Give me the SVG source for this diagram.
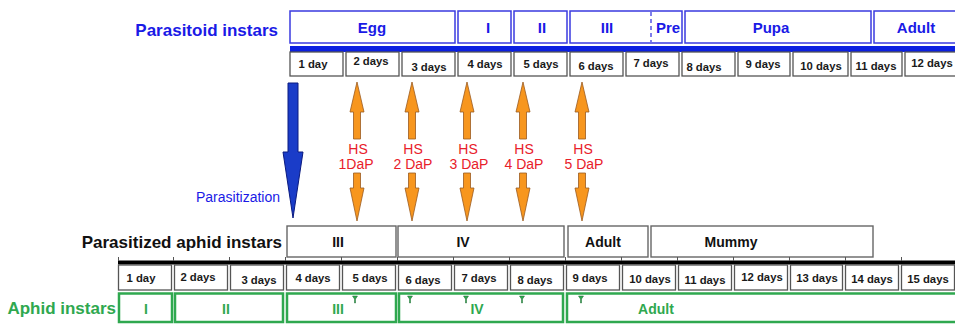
<svg xmlns="http://www.w3.org/2000/svg" width="955" height="325" viewBox="0 0 955 325">
  <style>
    text { font-family: "Liberation Sans", Arial, sans-serif; }
    .lbl-blue { fill: #1a1ae6; font-weight: bold; font-size: 17px; }
    .lbl-black { fill: #111; font-weight: bold; font-size: 17px; }
    .lbl-green { fill: #2fa84f; font-weight: bold; font-size: 17px; }
    .pbox { fill: #fff; stroke: #3a3ae0; stroke-width: 1.5; }
    .ptxt { fill: #1a1ae6; font-weight: bold; font-size: 15px; text-anchor: middle; }
    .day { fill: #fff; stroke: #555; stroke-width: 1.3; }
    .dtxt { fill: #1a1a1a; font-weight: bold; font-size: 11.3px; text-anchor: middle; }
    .abox { fill: #fff; stroke: #666; stroke-width: 1.4; }
    .atxt { fill: #111; font-weight: bold; font-size: 14px; text-anchor: middle; }
    .gbox { fill: #fff; stroke: #2fa84f; stroke-width: 2.5; }
    .gtxt { fill: #2fa84f; font-weight: bold; font-size: 14px; text-anchor: middle; }
    .hs { fill: #e8202a; font-size: 14px; text-anchor: middle; }
    .orange { fill: #f7961e; stroke: #9a5a20; stroke-width: 0.8; }
    .gmark { fill: #2fa84f; stroke: #1d6b30; stroke-width: 0.5; }
  </style>

  <!-- row titles -->
  <text class="lbl-blue" x="278" y="36" text-anchor="end">Parasitoid instars</text>
  <text class="lbl-black" x="282" y="248" text-anchor="end">Parasitized aphid instars</text>
  <text class="lbl-green" x="116" y="314" text-anchor="end">Aphid instars</text>

  <!-- parasitoid stages -->
  <g id="parasitoid-egg"><rect class="pbox" x="290" y="11" width="165" height="32"/><text class="ptxt" x="372" y="33">Egg</text></g>
  <g id="parasitoid-I"><rect class="pbox" x="458" y="11" width="53" height="32"/><text class="ptxt" x="488" y="33">I</text></g>
  <g id="parasitoid-II"><rect class="pbox" x="514" y="11" width="53" height="32"/><text class="ptxt" x="542" y="33">II</text></g>
  <g id="parasitoid-III-pre"><rect class="pbox" x="570" y="11" width="112" height="32"/>
    <line x1="651" y1="12" x2="651" y2="42" stroke="#3a3ae0" stroke-width="1.3" stroke-dasharray="4,3"/>
    <text class="ptxt" x="607" y="33">III</text><text class="ptxt" x="668" y="33">Pre</text></g>
  <g id="parasitoid-pupa"><rect class="pbox" x="685" y="11" width="186" height="32"/><text class="ptxt" x="771" y="33">Pupa</text></g>
  <g id="parasitoid-adult"><rect class="pbox" x="874" y="11" width="90" height="32"/><text class="ptxt" x="916" y="33">Adult</text></g>

  <!-- blue time bar -->
  <rect x="290" y="46" width="665" height="6" fill="#0b1fe0"/>

  <!-- parasitoid days -->
  <g id="parasitoid-days">
    <rect class="day" x="290" y="52" width="53" height="24"/><text class="dtxt" x="313" y="68">1 day</text>
    <rect class="day" x="346" y="52" width="53" height="24"/><text class="dtxt" x="371" y="65">2 days</text>
    <rect class="day" x="402" y="52" width="53" height="24"/><text class="dtxt" x="429" y="71">3 days</text>
    <rect class="day" x="458" y="52" width="53" height="24"/><text class="dtxt" x="485" y="68">4 days</text>
    <rect class="day" x="514" y="52" width="53" height="24"/><text class="dtxt" x="541" y="68">5 days</text>
    <rect class="day" x="570" y="52" width="53" height="24"/><text class="dtxt" x="596" y="70">6 days</text>
    <rect class="day" x="626" y="52" width="53" height="24"/><text class="dtxt" x="651" y="67">7 days</text>
    <rect class="day" x="682" y="52" width="53" height="24"/><text class="dtxt" x="704" y="71">8 days</text>
    <rect class="day" x="738" y="52" width="52" height="24"/><text class="dtxt" x="763" y="68">9 days</text>
    <rect class="day" x="793" y="52" width="55" height="24"/><text class="dtxt" x="821" y="70">10 days</text>
    <rect class="day" x="851" y="52" width="51" height="24"/><text class="dtxt" x="876" y="70">11 days</text>
    <rect class="day" x="905" y="52" width="53" height="24"/><text class="dtxt" x="932" y="67">12 days</text>
  </g>

  <!-- arrows -->
  <g id="connectors">
    <!-- parasitization -->
    <polygon points="288,83 298,83 298,152 303,152 293,218 283,152 288,152" fill="#1a3cc8" stroke="#0a1a80" stroke-width="1"/>
    <!-- heat-shock arrows, upper and lower halves -->
    <g transform="translate(357,0)">
      <polygon class="orange" points="0,82 7,112 3.5,112 3.5,139 -3.5,139 -3.5,112 -7,112"/>
      <polygon class="orange" points="-3.5,173 3.5,173 3.5,188 7,188 0,221 -7,188 -3.5,188"/>
    </g>
    <g transform="translate(412,0)">
      <polygon class="orange" points="0,82 7,112 3.5,112 3.5,139 -3.5,139 -3.5,112 -7,112"/>
      <polygon class="orange" points="-3.5,173 3.5,173 3.5,188 7,188 0,221 -7,188 -3.5,188"/>
    </g>
    <g transform="translate(467,0)">
      <polygon class="orange" points="0,82 7,112 3.5,112 3.5,139 -3.5,139 -3.5,112 -7,112"/>
      <polygon class="orange" points="-3.5,173 3.5,173 3.5,188 7,188 0,221 -7,188 -3.5,188"/>
    </g>
    <g transform="translate(523,0)">
      <polygon class="orange" points="0,82 7,112 3.5,112 3.5,139 -3.5,139 -3.5,112 -7,112"/>
      <polygon class="orange" points="-3.5,173 3.5,173 3.5,188 7,188 0,221 -7,188 -3.5,188"/>
    </g>
    <g transform="translate(582,0)">
      <polygon class="orange" points="0,82 7,112 3.5,112 3.5,139 -3.5,139 -3.5,112 -7,112"/>
      <polygon class="orange" points="-3.5,173 3.5,173 3.5,188 7,188 0,221 -7,188 -3.5,188"/>
    </g>
  </g>

  <text x="280" y="202" fill="#1a1ae6" font-size="14" text-anchor="end">Parasitization</text>
  <g id="hs-labels">
    <text class="hs" x="358" y="154">HS</text><text class="hs" x="356" y="169">1DaP</text>
    <text class="hs" x="413" y="154">HS</text><text class="hs" x="413" y="169">2 DaP</text>
    <text class="hs" x="468" y="154">HS</text><text class="hs" x="469" y="169">3 DaP</text>
    <text class="hs" x="524" y="154">HS</text><text class="hs" x="524" y="169">4 DaP</text>
    <text class="hs" x="583" y="154">HS</text><text class="hs" x="584" y="169">5 DaP</text>
  </g>

  <!-- parasitized aphid stages -->
  <g id="aphid-p-III"><rect class="abox" x="287" y="226" width="109" height="31"/><text class="atxt" x="338" y="247">III</text></g>
  <g id="aphid-p-IV"><rect class="abox" x="398" y="226" width="166" height="31"/><text class="atxt" x="463" y="247">IV</text></g>
  <g id="aphid-p-adult"><rect class="abox" x="568" y="226" width="80" height="31"/><text class="atxt" x="603" y="247">Adult</text></g>
  <g id="aphid-p-mummy"><rect class="abox" x="651" y="226" width="222" height="31"/><text class="atxt" x="731" y="247">Mummy</text></g>

  <!-- black time bar with ticks -->
  <rect x="118" y="260.5" width="837" height="4" fill="#000"/>
  <path d="M118.5 257v4M173.5 257v4M229.5 257v4M285.5 257v4M341.5 257v4M397.5 257v4M453.5 257v4M509.5 257v4M565.5 257v4M621.5 257v4M677.5 257v4M733.5 257v4M789.5 257v4M845.5 257v4M901.5 257v4" stroke="#555" stroke-width="1"/>

  <!-- aphid days -->
  <g id="aphid-days">
    <rect class="day" x="118.5" y="265" width="53" height="25"/><text class="dtxt" x="141" y="282">1 day</text>
    <rect class="day" x="174.5" y="265" width="53" height="25"/><text class="dtxt" x="198" y="281">2 days</text>
    <rect class="day" x="230.5" y="265" width="53" height="25"/><text class="dtxt" x="259" y="284">3 days</text>
    <rect class="day" x="286.5" y="265" width="53" height="25"/><text class="dtxt" x="313" y="282">4 days</text>
    <rect class="day" x="342.5" y="265" width="53" height="25"/><text class="dtxt" x="370" y="282">5 days</text>
    <rect class="day" x="398.5" y="265" width="53" height="25"/><text class="dtxt" x="423" y="284">6 days</text>
    <rect class="day" x="454.5" y="265" width="53" height="25"/><text class="dtxt" x="479" y="282">7 days</text>
    <rect class="day" x="510.5" y="265" width="53" height="25"/><text class="dtxt" x="535" y="284">8 days</text>
    <rect class="day" x="566.5" y="265" width="53" height="25"/><text class="dtxt" x="590" y="282">9 days</text>
    <rect class="day" x="622.5" y="265" width="53" height="25"/><text class="dtxt" x="650" y="283">10 days</text>
    <rect class="day" x="678.5" y="265" width="53" height="25"/><text class="dtxt" x="705" y="284">11 days</text>
    <rect class="day" x="734.5" y="265" width="53" height="25"/><text class="dtxt" x="762" y="281">12 days</text>
    <rect class="day" x="790.5" y="265" width="52" height="25"/><text class="dtxt" x="817" y="282">13 days</text>
    <rect class="day" x="845.5" y="265" width="53" height="25"/><text class="dtxt" x="872" y="283">14 days</text>
    <rect class="day" x="901.5" y="265" width="53" height="25"/><text class="dtxt" x="928" y="283">15 days</text>
  </g>

  <!-- aphid stages -->
  <g id="aphid-I"><rect class="gbox" x="119" y="293.5" width="53" height="28.5"/><text class="gtxt" x="146" y="314">I</text></g>
  <g id="aphid-II"><rect class="gbox" x="175" y="293.5" width="108" height="28.5"/><text class="gtxt" x="226" y="314">II</text></g>
  <g id="aphid-III"><rect class="gbox" x="287" y="293.5" width="109" height="28.5"/><text class="gtxt" x="338" y="314">III</text></g>
  <g id="aphid-IV"><rect class="gbox" x="399" y="293.5" width="164" height="28.5"/><text class="gtxt" x="477" y="314">IV</text></g>
  <g id="aphid-adult"><rect class="gbox" x="567" y="293.5" width="395" height="28.5"/><text class="gtxt" x="656" y="314">Adult</text></g>

  <!-- heat-shock marks on aphid stages -->
  <g id="hs-marks">
    <path class="gmark" d="M352.5 296h5l-2 3v4h-1v-4z"/>
    <path class="gmark" d="M407.5 296h5l-2 3v4h-1v-4z"/>
    <path class="gmark" d="M463.5 296h5l-2 3v4h-1v-4z"/>
    <path class="gmark" d="M519.5 296h5l-2 3v4h-1v-4z"/>
    <path class="gmark" d="M578.5 296h5l-2 3v4h-1v-4z"/>
  </g>
</svg>
